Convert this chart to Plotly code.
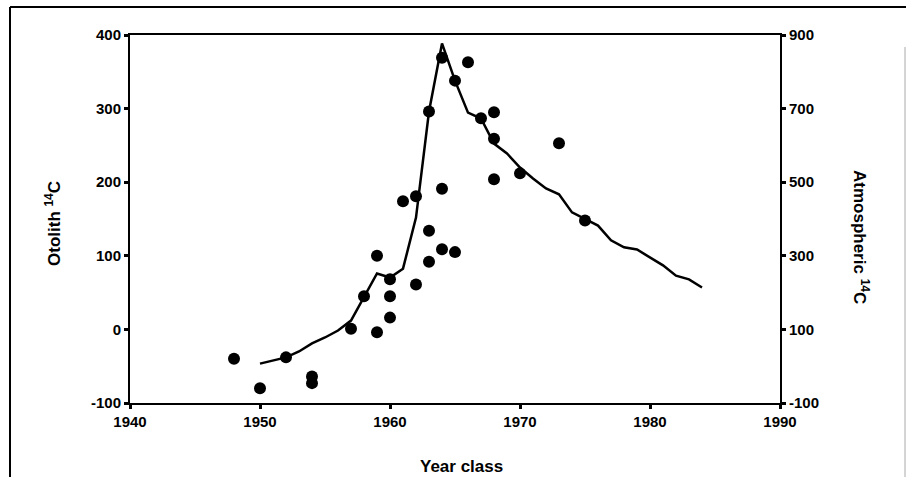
import plotly.graph_objects as go

# Otolith 14C (left axis) by year class
otolith_year = [1948, 1950, 1952, 1954, 1954, 1957, 1958, 1959, 1959, 1960, 1960, 1960,
                1961, 1962, 1962, 1963, 1963, 1963, 1964, 1964, 1964, 1965, 1965, 1966,
                1967, 1968, 1968, 1968, 1970, 1973, 1975]
otolith_c14 = [-40, -80, -38, -64, -73, 1, 45, 100, -4, 68, 45, 16,
               174, 181, 61, 296, 134, 92, 369, 191, 109, 338, 105, 363,
               287, 295, 259, 204, 212, 253, 148]

# Atmospheric 14C (right axis)
atmos_year = list(range(1950, 1985))
atmos_c14 = [7, 15, 24, 40, 62, 78, 97, 124, 187, 252,
             241, 265, 404, 692, 877, 776, 689, 673, 605, 578,
             540, 510, 483, 467, 418, 399, 382, 342, 323, 317,
             295, 274, 246, 236, 214]

left_ticks = [-100, 0, 100, 200, 300, 400]
left_labels = ["-100", "0", "100", "200", "300", "400"]
right_ticks = [-100, 100, 300, 500, 700, 900]
right_labels = ["-100", "100", "300", "500", "700", "900"]
x_ticks = [1940, 1950, 1960, 1970, 1980, 1990]

FONT = "Liberation Sans, Arial, sans-serif"

fig = go.Figure()
fig.add_trace(go.Scatter(
    x=atmos_year, y=atmos_c14, yaxis="y2", mode="lines",
    line=dict(color="black", width=2.5), showlegend=False, hoverinfo="skip"))
fig.add_trace(go.Scatter(
    x=otolith_year, y=otolith_c14, mode="markers",
    marker=dict(color="black", size=12), showlegend=False))

axis_common = dict(showgrid=False, zeroline=False, linecolor="black", linewidth=2,
                   ticks="outside", ticklen=4, tickwidth=3, tickcolor="black",
                   tickfont=dict(family=FONT, size=15, color="black", weight="bold"))

# plot area in page pixels: x 130..780, y 35..403
def px_x(p):
    return (p - 130) / 650

def px_y(p):
    return (403 - p) / 368

title_common = dict(xref="paper", yref="paper", showarrow=False,
                    xanchor="center", yanchor="middle")

fig.update_layout(
    width=906, height=477,
    margin=dict(l=130, r=126, t=35, b=74),
    paper_bgcolor="white", plot_bgcolor="white",
    font=dict(family=FONT, color="black"),
    xaxis=dict(range=[1940, 1990], tickvals=x_ticks, mirror=True, **axis_common),
    yaxis=dict(range=[-100, 400], tickvals=left_ticks, ticktext=left_labels, **axis_common),
    yaxis2=dict(range=[-100, 900], tickvals=right_ticks, ticktext=right_labels,
                overlaying="y", side="right", **axis_common),
    annotations=[
        dict(text="<b>Year class</b>", x=px_x(461), y=px_y(467),
             font=dict(family=FONT, size=17, color="black"), **title_common),
        dict(text="<b>Otolith <sup>14</sup>C</b>", x=px_x(53), y=px_y(224), textangle=-90,
             font=dict(family=FONT, size=17, color="black"), **title_common),
        dict(text="<b>Atmospheric <sup>14</sup>C</b>", x=px_x(861), y=px_y(237), textangle=90,
             font=dict(family=FONT, size=17, color="black"), **title_common),
    ],
    shapes=[
        # outer figure frame (scanned page border)
        dict(type="line", xref="paper", yref="paper",
             x0=px_x(10), x1=px_x(10), y0=px_y(7), y1=px_y(477),
             line=dict(color="black", width=2)),
        dict(type="line", xref="paper", yref="paper",
             x0=px_x(10), x1=px_x(906), y0=px_y(7), y1=px_y(7),
             line=dict(color="black", width=2)),
        dict(type="line", xref="paper", yref="paper",
             x0=px_x(905), x1=px_x(905), y0=px_y(47), y1=px_y(477),
             line=dict(color="#aaaaaa", width=1)),
    ],
)

fig.write_html(
    "out.html",
    config={"displayModeBar": False},
    post_script="document.body.style.margin='0';document.body.style.padding='0';"
                "document.documentElement.style.overflow='hidden';",
)
